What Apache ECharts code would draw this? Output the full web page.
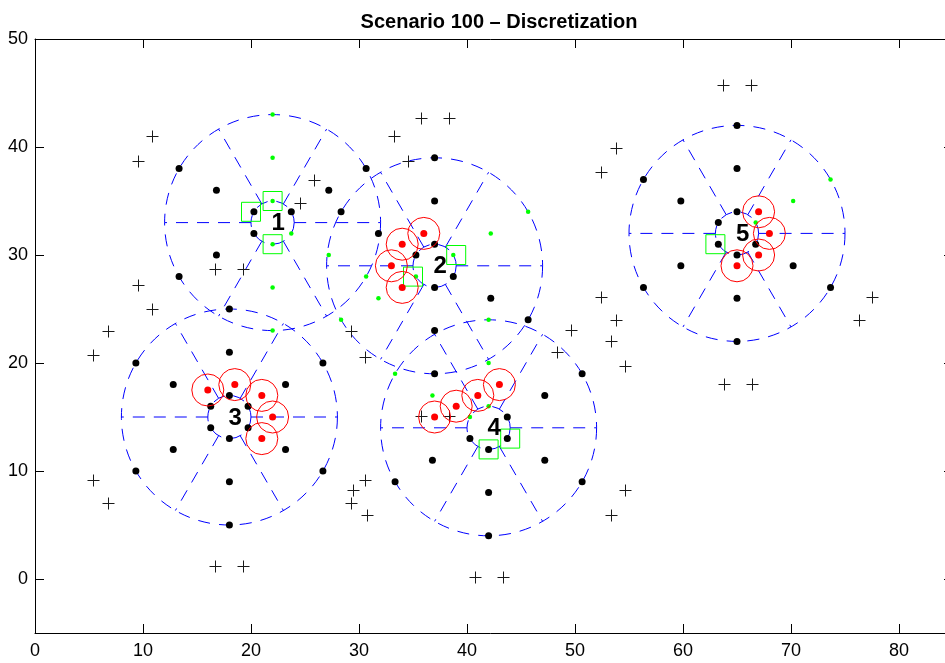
<!DOCTYPE html>
<html>
<head>
<meta charset="utf-8">
<script src="https://cdn.jsdelivr.net/npm/echarts@6/dist/echarts.min.js"></script>
<style>html,body{margin:0;padding:0;background:#fff}#c{width:945px;height:663px}</style>
</head>
<body>
<div id="c"></div>
<script>
// ---------------- data ----------------
const titleText = 'Scenario 100 \u2013 Discretization';
const xTicks = [0, 10, 20, 30, 40, 50, 60, 70, 80];
const yTicks = [0, 10, 20, 30, 40, 50];
const clusterNames = ['1', '2', '3', '4', '5'];
const clusterCenters = [[22, 33], [37, 29], [18, 15], [42, 14], [65, 32]];
const outerRadius = 10;
const innerRadius = 2;

const blackPoints = [
  // cluster 1
  [23.73, 34], [20.27, 34], [20.27, 32], [27.2, 36], [16.8, 36], [16.8, 30], [30.66, 38], [13.34, 38], [13.34, 28],
  // cluster 2
  [37, 31], [35.27, 30], [37, 27], [38.73, 28], [37, 35], [31.8, 32], [37, 23], [42.2, 26],
  [37, 39], [28.34, 34], [37, 19], [45.66, 24],
  // cluster 3
  [18, 17], [19.73, 16], [16.27, 16], [16.27, 14], [18, 13], [19.73, 14],
  [18, 21], [23.2, 18], [12.8, 18], [12.8, 12], [18, 9], [23.2, 12],
  [18, 25], [26.66, 20], [9.34, 20], [9.34, 10], [18, 5], [26.66, 10],
  // cluster 4
  [43.73, 15], [40.27, 13], [42, 12], [43.73, 13], [47.2, 17], [36.8, 11], [42, 8], [47.2, 11],
  [50.66, 19], [33.34, 9], [42, 4], [50.66, 9],
  // cluster 5
  [65, 34], [63.27, 33], [63.27, 31], [65, 30], [66.73, 31], [65, 38], [59.8, 35], [59.8, 29], [65, 26], [70.2, 29],
  [65, 42], [56.34, 37], [56.34, 27], [65, 22], [73.66, 27]
];
const greenPoints = [
  [22, 35], [22, 31], [23.73, 32], [22, 39], [22, 27], [27.2, 30], [22, 43], [22, 23], [30.66, 28],
  [38.73, 30], [35.27, 28], [42.2, 32], [31.8, 26], [45.66, 34], [28.34, 24],
  [42, 16], [40.27, 15], [42, 20], [36.8, 17], [42, 24], [33.34, 19],
  [66.73, 33], [70.2, 35], [73.66, 37]
];
const redPoints = [
  [36, 32], [34, 31], [33, 29], [34, 27],
  [16, 17.5], [18.5, 18], [21, 17], [22, 15], [21, 13],
  [37, 15], [39, 16], [41, 17], [43, 18],
  [67, 34], [68, 32], [67, 30], [65, 29]
];
const squarePoints = [[22, 35], [20, 34], [22, 31], [39, 30], [35, 28], [42, 12], [44, 13], [63, 31]];
const crossPoints = [
  [9.5, 38.7], [10.8, 41.0], [9.5, 27.2], [10.8, 25.0], [6.8, 23.0], [5.4, 20.7], [5.4, 9.2], [6.8, 7.0],
  [16.7, 28.7], [19.3, 28.7], [16.7, 1.2], [19.3, 1.2],
  [25.8, 36.9], [24.5, 34.8],
  [33.2, 41.0], [34.5, 38.7], [35.7, 42.7], [38.3, 42.7],
  [29.3, 23.0], [30.6, 20.6],
  [29.4, 8.2], [29.3, 7.0], [30.6, 9.2], [30.7, 5.9],
  [35.7, 15.1], [38.3, 15.1],
  [40.7, 0.2], [43.3, 0.2],
  [49.6, 23.1], [48.3, 21.0], [53.8, 24.0], [53.3, 22.0], [54.6, 19.7],
  [54.6, 8.2], [53.3, 5.9],
  [52.4, 37.7], [53.8, 39.9], [52.4, 26.1],
  [63.7, 45.7], [66.3, 45.7], [63.8, 18.1], [66.4, 18.1], [77.5, 26.1], [76.3, 24.0]
];

// ---------------- chart ----------------
const FONT = 'Liberation Sans, Arial, Helvetica, sans-serif';
const chart = echarts.init(document.getElementById('c'), null, {renderer: 'canvas'});

function axisCommon(labels, ticks, showLabel, margin) {
  return {
    axisLine: {show: true, onZero: false, lineStyle: {color: '#000', width: 1}},
    axisTick: {show: true, inside: true, length: 9, customValues: ticks, lineStyle: {color: '#000', width: 1}},
    axisLabel: {show: showLabel, customValues: labels, color: '#000', fontSize: 18, fontFamily: FONT, margin: margin},
    splitLine: {show: false}
  };
}

function renderDisc(params, api) {
  const c = api.coord([api.value(0), api.value(1)]);
  const s = api.size([1, 1]);
  const R = outerRadius * s[0];
  const r = innerRadius * s[0];
  const mk = () => ({stroke: '#0000ff', fill: 'none', lineWidth: 1, lineDash: [12, 9]});
  const children = [
    {type: 'circle', shape: {cx: c[0], cy: c[1], r: R}, style: mk()},
    {type: 'circle', shape: {cx: c[0], cy: c[1], r: r}, style: mk()}
  ];
  for (let k = 0; k < 6; k++) {
    const a = k * Math.PI / 3;
    children.push({
      type: 'line',
      shape: {x1: c[0] + r * Math.cos(a), y1: c[1] - r * Math.sin(a), x2: c[0] + R * Math.cos(a), y2: c[1] - R * Math.sin(a)},
      style: mk()
    });
  }
  return {type: 'group', children};
}

function renderCross(params, api) {
  const c = api.coord([api.value(0), api.value(1)]);
  const h = 6;
  const x = Math.round(c[0]) + 0.5, y = Math.round(c[1]) + 0.5;
  return {type: 'group', children: [
    {type: 'line', shape: {x1: x - h, y1: y, x2: x + h, y2: y}, style: {stroke: '#1a1a1a', lineWidth: 1}},
    {type: 'line', shape: {x1: x, y1: y - h, x2: x, y2: y + h}, style: {stroke: '#1a1a1a', lineWidth: 1}}
  ]};
}

function renderLabel(params, api) {
  const c = api.coord([api.value(0), api.value(1)]);
  return {type: 'text', x: c[0] - 1, y: c[1] + 1, style: {
    text: clusterNames[params.dataIndex], fill: '#000', font: 'bold 24px ' + FONT,
    align: 'left', verticalAlign: 'middle'
  }};
}

const scatterBase = {type: 'scatter', silent: true, emphasis: {disabled: true}, animation: false};

chart.setOption({
  animation: false,
  backgroundColor: '#fff',
  title: {
    text: titleText, left: 494, top: 7, textAlign: 'center',
    textStyle: {fontSize: 20, fontWeight: 'bold', color: '#000', fontFamily: FONT}
  },
  grid: {left: 35, top: 39, right: -8, bottom: 30, containLabel: false, outerBoundsMode: 'none'},
  xAxis: [
    Object.assign({type: 'value', min: 0, max: 85, position: 'bottom'}, axisCommon(xTicks, xTicks, true, 9)),
    Object.assign({type: 'value', min: 0, max: 85, position: 'top'}, axisCommon(xTicks, xTicks, false, 8))
  ],
  yAxis: [
    Object.assign({type: 'value', min: -5, max: 50, position: 'left'}, axisCommon(yTicks, yTicks, true, 7)),
    Object.assign({type: 'value', min: -5, max: 50, position: 'right'}, axisCommon(yTicks, yTicks, false, 8))
  ],
  series: [
    {type: 'custom', renderItem: renderDisc, data: clusterCenters, silent: true, animation: false, z: 1},
    {type: 'custom', renderItem: renderCross, data: crossPoints, silent: true, animation: false, z: 2},
    Object.assign({}, scatterBase, {data: blackPoints, symbol: 'circle', symbolSize: 7, itemStyle: {color: '#000', opacity: 1}, z: 3}),
    Object.assign({}, scatterBase, {data: greenPoints, symbol: 'circle', symbolSize: 4.5, itemStyle: {color: '#00ff00', opacity: 1}, z: 3}),
    Object.assign({}, scatterBase, {data: squarePoints, symbol: 'rect', symbolSize: 19, itemStyle: {color: 'rgba(0,0,0,0)', borderColor: '#00ff00', borderWidth: 1, opacity: 1}, z: 4}),
    Object.assign({}, scatterBase, {data: redPoints, symbol: 'circle', symbolSize: 32, itemStyle: {color: 'rgba(0,0,0,0)', borderColor: '#ff0000', borderWidth: 1, opacity: 1}, z: 4}),
    Object.assign({}, scatterBase, {data: redPoints, symbol: 'circle', symbolSize: 7, itemStyle: {color: '#ff0000', opacity: 1}, z: 5}),
    {type: 'custom', renderItem: renderLabel, data: clusterCenters, silent: true, animation: false, z: 6}
  ]
});
</script>
</body>
</html>
